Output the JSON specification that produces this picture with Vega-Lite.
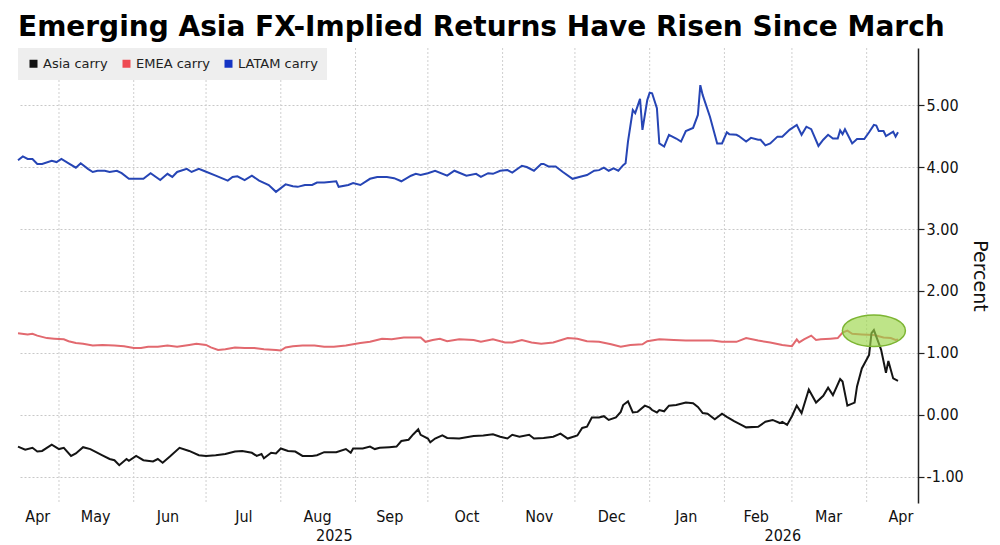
{
  "$schema": "https://vega.github.io/schema/vega-lite/v6.json",
  "width": 900,
  "height": 455,
  "autosize": {"type": "none"},
  "padding": {"left": 18, "top": 48, "right": 82, "bottom": 42},
  "background": "white",
  "config": {"view": {"stroke": null}, "font": "DejaVu Sans"},
  "title": {
    "text": "Emerging Asia FX-Implied Returns Have Risen Since March",
    "anchor": "start",
    "frame": "group",
    "font": "DejaVu Sans",
    "fontWeight": "bold",
    "fontSize": 28,
    "color": "#000000",
    "offset": 6
  },
  "datasets": {
    "months": [
      {"date": "2025-05-01"}, {"date": "2025-06-01"}, {"date": "2025-07-01"}, {"date": "2025-08-01"},
      {"date": "2025-09-01"}, {"date": "2025-10-01"}, {"date": "2025-11-01"}, {"date": "2025-12-01"},
      {"date": "2026-01-01"}, {"date": "2026-02-01"}, {"date": "2026-03-01"}, {"date": "2026-04-01"}
    ],
    "highlight": [{"date": "2026-04-04", "value": 1.36}],
    "carry": [
      {"date": "2025-04-14", "series": "LATAM carry", "value": 4.11},
      {"date": "2025-04-16", "series": "LATAM carry", "value": 4.17},
      {"date": "2025-04-18", "series": "LATAM carry", "value": 4.13},
      {"date": "2025-04-20", "series": "LATAM carry", "value": 4.13},
      {"date": "2025-04-22", "series": "LATAM carry", "value": 4.05},
      {"date": "2025-04-24", "series": "LATAM carry", "value": 4.05},
      {"date": "2025-04-28", "series": "LATAM carry", "value": 4.10},
      {"date": "2025-04-30", "series": "LATAM carry", "value": 4.08},
      {"date": "2025-05-02", "series": "LATAM carry", "value": 4.13},
      {"date": "2025-05-05", "series": "LATAM carry", "value": 4.06},
      {"date": "2025-05-08", "series": "LATAM carry", "value": 3.99},
      {"date": "2025-05-10", "series": "LATAM carry", "value": 4.06},
      {"date": "2025-05-13", "series": "LATAM carry", "value": 3.97},
      {"date": "2025-05-15", "series": "LATAM carry", "value": 3.92},
      {"date": "2025-05-17", "series": "LATAM carry", "value": 3.94},
      {"date": "2025-05-20", "series": "LATAM carry", "value": 3.94},
      {"date": "2025-05-22", "series": "LATAM carry", "value": 3.92},
      {"date": "2025-05-25", "series": "LATAM carry", "value": 3.94},
      {"date": "2025-05-27", "series": "LATAM carry", "value": 3.90},
      {"date": "2025-05-30", "series": "LATAM carry", "value": 3.81},
      {"date": "2025-06-05", "series": "LATAM carry", "value": 3.81},
      {"date": "2025-06-08", "series": "LATAM carry", "value": 3.90},
      {"date": "2025-06-12", "series": "LATAM carry", "value": 3.79},
      {"date": "2025-06-15", "series": "LATAM carry", "value": 3.89},
      {"date": "2025-06-17", "series": "LATAM carry", "value": 3.84},
      {"date": "2025-06-19", "series": "LATAM carry", "value": 3.92},
      {"date": "2025-06-23", "series": "LATAM carry", "value": 3.97},
      {"date": "2025-06-25", "series": "LATAM carry", "value": 3.92},
      {"date": "2025-06-28", "series": "LATAM carry", "value": 3.97},
      {"date": "2025-06-30", "series": "LATAM carry", "value": 3.94},
      {"date": "2025-07-05", "series": "LATAM carry", "value": 3.86},
      {"date": "2025-07-10", "series": "LATAM carry", "value": 3.78},
      {"date": "2025-07-12", "series": "LATAM carry", "value": 3.84},
      {"date": "2025-07-14", "series": "LATAM carry", "value": 3.85},
      {"date": "2025-07-17", "series": "LATAM carry", "value": 3.79},
      {"date": "2025-07-20", "series": "LATAM carry", "value": 3.86},
      {"date": "2025-07-23", "series": "LATAM carry", "value": 3.78},
      {"date": "2025-07-27", "series": "LATAM carry", "value": 3.71},
      {"date": "2025-07-30", "series": "LATAM carry", "value": 3.60},
      {"date": "2025-08-03", "series": "LATAM carry", "value": 3.72},
      {"date": "2025-08-06", "series": "LATAM carry", "value": 3.69},
      {"date": "2025-08-08", "series": "LATAM carry", "value": 3.68},
      {"date": "2025-08-11", "series": "LATAM carry", "value": 3.71},
      {"date": "2025-08-14", "series": "LATAM carry", "value": 3.71},
      {"date": "2025-08-16", "series": "LATAM carry", "value": 3.75},
      {"date": "2025-08-19", "series": "LATAM carry", "value": 3.75},
      {"date": "2025-08-24", "series": "LATAM carry", "value": 3.77},
      {"date": "2025-08-25", "series": "LATAM carry", "value": 3.68},
      {"date": "2025-08-29", "series": "LATAM carry", "value": 3.71},
      {"date": "2025-08-31", "series": "LATAM carry", "value": 3.74},
      {"date": "2025-09-03", "series": "LATAM carry", "value": 3.71},
      {"date": "2025-09-07", "series": "LATAM carry", "value": 3.81},
      {"date": "2025-09-10", "series": "LATAM carry", "value": 3.84},
      {"date": "2025-09-14", "series": "LATAM carry", "value": 3.84},
      {"date": "2025-09-17", "series": "LATAM carry", "value": 3.82},
      {"date": "2025-09-20", "series": "LATAM carry", "value": 3.77},
      {"date": "2025-09-24", "series": "LATAM carry", "value": 3.86},
      {"date": "2025-09-26", "series": "LATAM carry", "value": 3.89},
      {"date": "2025-09-28", "series": "LATAM carry", "value": 3.87},
      {"date": "2025-10-01", "series": "LATAM carry", "value": 3.90},
      {"date": "2025-10-04", "series": "LATAM carry", "value": 3.94},
      {"date": "2025-10-09", "series": "LATAM carry", "value": 3.86},
      {"date": "2025-10-12", "series": "LATAM carry", "value": 3.94},
      {"date": "2025-10-17", "series": "LATAM carry", "value": 3.86},
      {"date": "2025-10-21", "series": "LATAM carry", "value": 3.89},
      {"date": "2025-10-23", "series": "LATAM carry", "value": 3.84},
      {"date": "2025-10-26", "series": "LATAM carry", "value": 3.90},
      {"date": "2025-10-28", "series": "LATAM carry", "value": 3.89},
      {"date": "2025-10-31", "series": "LATAM carry", "value": 3.94},
      {"date": "2025-11-03", "series": "LATAM carry", "value": 3.95},
      {"date": "2025-11-05", "series": "LATAM carry", "value": 3.91},
      {"date": "2025-11-09", "series": "LATAM carry", "value": 4.02},
      {"date": "2025-11-11", "series": "LATAM carry", "value": 4.00},
      {"date": "2025-11-14", "series": "LATAM carry", "value": 3.94},
      {"date": "2025-11-17", "series": "LATAM carry", "value": 4.05},
      {"date": "2025-11-18", "series": "LATAM carry", "value": 4.05},
      {"date": "2025-11-20", "series": "LATAM carry", "value": 4.01},
      {"date": "2025-11-23", "series": "LATAM carry", "value": 4.01},
      {"date": "2025-11-26", "series": "LATAM carry", "value": 3.92},
      {"date": "2025-11-30", "series": "LATAM carry", "value": 3.81},
      {"date": "2025-12-04", "series": "LATAM carry", "value": 3.85},
      {"date": "2025-12-06", "series": "LATAM carry", "value": 3.87},
      {"date": "2025-12-09", "series": "LATAM carry", "value": 3.94},
      {"date": "2025-12-11", "series": "LATAM carry", "value": 3.95},
      {"date": "2025-12-13", "series": "LATAM carry", "value": 3.99},
      {"date": "2025-12-15", "series": "LATAM carry", "value": 3.94},
      {"date": "2025-12-17", "series": "LATAM carry", "value": 3.98},
      {"date": "2025-12-19", "series": "LATAM carry", "value": 3.94},
      {"date": "2025-12-21", "series": "LATAM carry", "value": 4.03},
      {"date": "2025-12-22", "series": "LATAM carry", "value": 4.06},
      {"date": "2025-12-23", "series": "LATAM carry", "value": 4.41},
      {"date": "2025-12-25", "series": "LATAM carry", "value": 4.92},
      {"date": "2025-12-26", "series": "LATAM carry", "value": 4.87},
      {"date": "2025-12-28", "series": "LATAM carry", "value": 5.10},
      {"date": "2025-12-29", "series": "LATAM carry", "value": 4.60},
      {"date": "2025-12-31", "series": "LATAM carry", "value": 5.08},
      {"date": "2026-01-01", "series": "LATAM carry", "value": 5.20},
      {"date": "2026-01-02", "series": "LATAM carry", "value": 5.19},
      {"date": "2026-01-04", "series": "LATAM carry", "value": 4.95},
      {"date": "2026-01-05", "series": "LATAM carry", "value": 4.38},
      {"date": "2026-01-07", "series": "LATAM carry", "value": 4.33},
      {"date": "2026-01-09", "series": "LATAM carry", "value": 4.52},
      {"date": "2026-01-12", "series": "LATAM carry", "value": 4.46},
      {"date": "2026-01-14", "series": "LATAM carry", "value": 4.41},
      {"date": "2026-01-16", "series": "LATAM carry", "value": 4.58},
      {"date": "2026-01-19", "series": "LATAM carry", "value": 4.63},
      {"date": "2026-01-21", "series": "LATAM carry", "value": 4.84},
      {"date": "2026-01-22", "series": "LATAM carry", "value": 5.32},
      {"date": "2026-01-23", "series": "LATAM carry", "value": 5.16},
      {"date": "2026-01-26", "series": "LATAM carry", "value": 4.81},
      {"date": "2026-01-29", "series": "LATAM carry", "value": 4.38},
      {"date": "2026-01-31", "series": "LATAM carry", "value": 4.38},
      {"date": "2026-02-02", "series": "LATAM carry", "value": 4.56},
      {"date": "2026-02-03", "series": "LATAM carry", "value": 4.53},
      {"date": "2026-02-06", "series": "LATAM carry", "value": 4.52},
      {"date": "2026-02-07", "series": "LATAM carry", "value": 4.50},
      {"date": "2026-02-10", "series": "LATAM carry", "value": 4.41},
      {"date": "2026-02-12", "series": "LATAM carry", "value": 4.47},
      {"date": "2026-02-15", "series": "LATAM carry", "value": 4.44},
      {"date": "2026-02-16", "series": "LATAM carry", "value": 4.44},
      {"date": "2026-02-18", "series": "LATAM carry", "value": 4.35},
      {"date": "2026-02-20", "series": "LATAM carry", "value": 4.38},
      {"date": "2026-02-23", "series": "LATAM carry", "value": 4.49},
      {"date": "2026-02-25", "series": "LATAM carry", "value": 4.49},
      {"date": "2026-02-28", "series": "LATAM carry", "value": 4.60},
      {"date": "2026-03-03", "series": "LATAM carry", "value": 4.68},
      {"date": "2026-03-05", "series": "LATAM carry", "value": 4.52},
      {"date": "2026-03-07", "series": "LATAM carry", "value": 4.65},
      {"date": "2026-03-09", "series": "LATAM carry", "value": 4.61},
      {"date": "2026-03-12", "series": "LATAM carry", "value": 4.34},
      {"date": "2026-03-14", "series": "LATAM carry", "value": 4.44},
      {"date": "2026-03-16", "series": "LATAM carry", "value": 4.52},
      {"date": "2026-03-18", "series": "LATAM carry", "value": 4.46},
      {"date": "2026-03-20", "series": "LATAM carry", "value": 4.46},
      {"date": "2026-03-21", "series": "LATAM carry", "value": 4.59},
      {"date": "2026-03-22", "series": "LATAM carry", "value": 4.53},
      {"date": "2026-03-23", "series": "LATAM carry", "value": 4.61},
      {"date": "2026-03-26", "series": "LATAM carry", "value": 4.38},
      {"date": "2026-03-28", "series": "LATAM carry", "value": 4.45},
      {"date": "2026-03-31", "series": "LATAM carry", "value": 4.45},
      {"date": "2026-04-02", "series": "LATAM carry", "value": 4.56},
      {"date": "2026-04-04", "series": "LATAM carry", "value": 4.68},
      {"date": "2026-04-05", "series": "LATAM carry", "value": 4.67},
      {"date": "2026-04-06", "series": "LATAM carry", "value": 4.58},
      {"date": "2026-04-08", "series": "LATAM carry", "value": 4.58},
      {"date": "2026-04-09", "series": "LATAM carry", "value": 4.50},
      {"date": "2026-04-12", "series": "LATAM carry", "value": 4.57},
      {"date": "2026-04-13", "series": "LATAM carry", "value": 4.49},
      {"date": "2026-04-14", "series": "LATAM carry", "value": 4.56},

      {"date": "2025-04-14", "series": "EMEA carry", "value": 1.32},
      {"date": "2025-04-18", "series": "EMEA carry", "value": 1.30},
      {"date": "2025-04-20", "series": "EMEA carry", "value": 1.31},
      {"date": "2025-04-22", "series": "EMEA carry", "value": 1.28},
      {"date": "2025-04-26", "series": "EMEA carry", "value": 1.24},
      {"date": "2025-04-29", "series": "EMEA carry", "value": 1.23},
      {"date": "2025-05-03", "series": "EMEA carry", "value": 1.22},
      {"date": "2025-05-05", "series": "EMEA carry", "value": 1.19},
      {"date": "2025-05-08", "series": "EMEA carry", "value": 1.16},
      {"date": "2025-05-11", "series": "EMEA carry", "value": 1.15},
      {"date": "2025-05-15", "series": "EMEA carry", "value": 1.12},
      {"date": "2025-05-19", "series": "EMEA carry", "value": 1.13},
      {"date": "2025-05-24", "series": "EMEA carry", "value": 1.12},
      {"date": "2025-05-28", "series": "EMEA carry", "value": 1.11},
      {"date": "2025-06-01", "series": "EMEA carry", "value": 1.08},
      {"date": "2025-06-04", "series": "EMEA carry", "value": 1.08},
      {"date": "2025-06-07", "series": "EMEA carry", "value": 1.10},
      {"date": "2025-06-11", "series": "EMEA carry", "value": 1.10},
      {"date": "2025-06-15", "series": "EMEA carry", "value": 1.12},
      {"date": "2025-06-19", "series": "EMEA carry", "value": 1.10},
      {"date": "2025-06-24", "series": "EMEA carry", "value": 1.13},
      {"date": "2025-06-27", "series": "EMEA carry", "value": 1.15},
      {"date": "2025-07-01", "series": "EMEA carry", "value": 1.13},
      {"date": "2025-07-03", "series": "EMEA carry", "value": 1.09},
      {"date": "2025-07-06", "series": "EMEA carry", "value": 1.05},
      {"date": "2025-07-09", "series": "EMEA carry", "value": 1.06},
      {"date": "2025-07-13", "series": "EMEA carry", "value": 1.09},
      {"date": "2025-07-17", "series": "EMEA carry", "value": 1.08},
      {"date": "2025-07-21", "series": "EMEA carry", "value": 1.08},
      {"date": "2025-07-25", "series": "EMEA carry", "value": 1.06},
      {"date": "2025-07-30", "series": "EMEA carry", "value": 1.05},
      {"date": "2025-08-01", "series": "EMEA carry", "value": 1.04},
      {"date": "2025-08-03", "series": "EMEA carry", "value": 1.09},
      {"date": "2025-08-06", "series": "EMEA carry", "value": 1.11},
      {"date": "2025-08-10", "series": "EMEA carry", "value": 1.12},
      {"date": "2025-08-15", "series": "EMEA carry", "value": 1.12},
      {"date": "2025-08-19", "series": "EMEA carry", "value": 1.10},
      {"date": "2025-08-23", "series": "EMEA carry", "value": 1.10},
      {"date": "2025-08-28", "series": "EMEA carry", "value": 1.12},
      {"date": "2025-09-03", "series": "EMEA carry", "value": 1.16},
      {"date": "2025-09-07", "series": "EMEA carry", "value": 1.18},
      {"date": "2025-09-12", "series": "EMEA carry", "value": 1.23},
      {"date": "2025-09-16", "series": "EMEA carry", "value": 1.22},
      {"date": "2025-09-21", "series": "EMEA carry", "value": 1.25},
      {"date": "2025-09-24", "series": "EMEA carry", "value": 1.25},
      {"date": "2025-09-28", "series": "EMEA carry", "value": 1.25},
      {"date": "2025-09-30", "series": "EMEA carry", "value": 1.18},
      {"date": "2025-10-03", "series": "EMEA carry", "value": 1.21},
      {"date": "2025-10-06", "series": "EMEA carry", "value": 1.23},
      {"date": "2025-10-09", "series": "EMEA carry", "value": 1.19},
      {"date": "2025-10-14", "series": "EMEA carry", "value": 1.22},
      {"date": "2025-10-20", "series": "EMEA carry", "value": 1.21},
      {"date": "2025-10-23", "series": "EMEA carry", "value": 1.18},
      {"date": "2025-10-28", "series": "EMEA carry", "value": 1.22},
      {"date": "2025-11-02", "series": "EMEA carry", "value": 1.17},
      {"date": "2025-11-05", "series": "EMEA carry", "value": 1.17},
      {"date": "2025-11-09", "series": "EMEA carry", "value": 1.21},
      {"date": "2025-11-13", "series": "EMEA carry", "value": 1.17},
      {"date": "2025-11-17", "series": "EMEA carry", "value": 1.15},
      {"date": "2025-11-22", "series": "EMEA carry", "value": 1.17},
      {"date": "2025-11-28", "series": "EMEA carry", "value": 1.24},
      {"date": "2025-12-02", "series": "EMEA carry", "value": 1.23},
      {"date": "2025-12-06", "series": "EMEA carry", "value": 1.19},
      {"date": "2025-12-11", "series": "EMEA carry", "value": 1.18},
      {"date": "2025-12-16", "series": "EMEA carry", "value": 1.14},
      {"date": "2025-12-20", "series": "EMEA carry", "value": 1.10},
      {"date": "2025-12-24", "series": "EMEA carry", "value": 1.13},
      {"date": "2025-12-29", "series": "EMEA carry", "value": 1.14},
      {"date": "2025-12-31", "series": "EMEA carry", "value": 1.19},
      {"date": "2026-01-05", "series": "EMEA carry", "value": 1.22},
      {"date": "2026-01-11", "series": "EMEA carry", "value": 1.21},
      {"date": "2026-01-16", "series": "EMEA carry", "value": 1.20},
      {"date": "2026-01-22", "series": "EMEA carry", "value": 1.20},
      {"date": "2026-01-27", "series": "EMEA carry", "value": 1.20},
      {"date": "2026-01-31", "series": "EMEA carry", "value": 1.18},
      {"date": "2026-02-06", "series": "EMEA carry", "value": 1.18},
      {"date": "2026-02-10", "series": "EMEA carry", "value": 1.24},
      {"date": "2026-02-15", "series": "EMEA carry", "value": 1.20},
      {"date": "2026-02-20", "series": "EMEA carry", "value": 1.17},
      {"date": "2026-02-25", "series": "EMEA carry", "value": 1.13},
      {"date": "2026-03-01", "series": "EMEA carry", "value": 1.11},
      {"date": "2026-03-03", "series": "EMEA carry", "value": 1.22},
      {"date": "2026-03-04", "series": "EMEA carry", "value": 1.17},
      {"date": "2026-03-06", "series": "EMEA carry", "value": 1.22},
      {"date": "2026-03-09", "series": "EMEA carry", "value": 1.28},
      {"date": "2026-03-11", "series": "EMEA carry", "value": 1.21},
      {"date": "2026-03-13", "series": "EMEA carry", "value": 1.22},
      {"date": "2026-03-17", "series": "EMEA carry", "value": 1.23},
      {"date": "2026-03-20", "series": "EMEA carry", "value": 1.24},
      {"date": "2026-03-22", "series": "EMEA carry", "value": 1.33},
      {"date": "2026-03-24", "series": "EMEA carry", "value": 1.36},
      {"date": "2026-03-26", "series": "EMEA carry", "value": 1.31},
      {"date": "2026-03-30", "series": "EMEA carry", "value": 1.30},
      {"date": "2026-04-04", "series": "EMEA carry", "value": 1.29},
      {"date": "2026-04-08", "series": "EMEA carry", "value": 1.25},
      {"date": "2026-04-11", "series": "EMEA carry", "value": 1.24},
      {"date": "2026-04-13", "series": "EMEA carry", "value": 1.21},
      {"date": "2026-04-14", "series": "EMEA carry", "value": 1.22},

      {"date": "2025-04-14", "series": "Asia carry", "value": -0.51},
      {"date": "2025-04-17", "series": "Asia carry", "value": -0.56},
      {"date": "2025-04-20", "series": "Asia carry", "value": -0.53},
      {"date": "2025-04-22", "series": "Asia carry", "value": -0.59},
      {"date": "2025-04-24", "series": "Asia carry", "value": -0.58},
      {"date": "2025-04-28", "series": "Asia carry", "value": -0.48},
      {"date": "2025-05-01", "series": "Asia carry", "value": -0.55},
      {"date": "2025-05-03", "series": "Asia carry", "value": -0.53},
      {"date": "2025-05-06", "series": "Asia carry", "value": -0.66},
      {"date": "2025-05-08", "series": "Asia carry", "value": -0.62},
      {"date": "2025-05-11", "series": "Asia carry", "value": -0.52},
      {"date": "2025-05-14", "series": "Asia carry", "value": -0.55},
      {"date": "2025-05-17", "series": "Asia carry", "value": -0.61},
      {"date": "2025-05-19", "series": "Asia carry", "value": -0.65},
      {"date": "2025-05-22", "series": "Asia carry", "value": -0.71},
      {"date": "2025-05-24", "series": "Asia carry", "value": -0.73},
      {"date": "2025-05-26", "series": "Asia carry", "value": -0.81},
      {"date": "2025-05-29", "series": "Asia carry", "value": -0.71},
      {"date": "2025-05-30", "series": "Asia carry", "value": -0.74},
      {"date": "2025-06-02", "series": "Asia carry", "value": -0.66},
      {"date": "2025-06-05", "series": "Asia carry", "value": -0.73},
      {"date": "2025-06-09", "series": "Asia carry", "value": -0.75},
      {"date": "2025-06-11", "series": "Asia carry", "value": -0.71},
      {"date": "2025-06-13", "series": "Asia carry", "value": -0.77},
      {"date": "2025-06-16", "series": "Asia carry", "value": -0.67},
      {"date": "2025-06-20", "series": "Asia carry", "value": -0.53},
      {"date": "2025-06-24", "series": "Asia carry", "value": -0.58},
      {"date": "2025-06-28", "series": "Asia carry", "value": -0.65},
      {"date": "2025-07-01", "series": "Asia carry", "value": -0.66},
      {"date": "2025-07-05", "series": "Asia carry", "value": -0.65},
      {"date": "2025-07-09", "series": "Asia carry", "value": -0.63},
      {"date": "2025-07-13", "series": "Asia carry", "value": -0.59},
      {"date": "2025-07-16", "series": "Asia carry", "value": -0.58},
      {"date": "2025-07-20", "series": "Asia carry", "value": -0.61},
      {"date": "2025-07-22", "series": "Asia carry", "value": -0.66},
      {"date": "2025-07-24", "series": "Asia carry", "value": -0.63},
      {"date": "2025-07-25", "series": "Asia carry", "value": -0.70},
      {"date": "2025-07-28", "series": "Asia carry", "value": -0.61},
      {"date": "2025-07-30", "series": "Asia carry", "value": -0.62},
      {"date": "2025-08-01", "series": "Asia carry", "value": -0.54},
      {"date": "2025-08-04", "series": "Asia carry", "value": -0.58},
      {"date": "2025-08-07", "series": "Asia carry", "value": -0.59},
      {"date": "2025-08-10", "series": "Asia carry", "value": -0.66},
      {"date": "2025-08-14", "series": "Asia carry", "value": -0.66},
      {"date": "2025-08-16", "series": "Asia carry", "value": -0.65},
      {"date": "2025-08-19", "series": "Asia carry", "value": -0.60},
      {"date": "2025-08-24", "series": "Asia carry", "value": -0.60},
      {"date": "2025-08-28", "series": "Asia carry", "value": -0.55},
      {"date": "2025-08-30", "series": "Asia carry", "value": -0.61},
      {"date": "2025-08-31", "series": "Asia carry", "value": -0.54},
      {"date": "2025-09-04", "series": "Asia carry", "value": -0.54},
      {"date": "2025-09-07", "series": "Asia carry", "value": -0.51},
      {"date": "2025-09-09", "series": "Asia carry", "value": -0.55},
      {"date": "2025-09-11", "series": "Asia carry", "value": -0.53},
      {"date": "2025-09-15", "series": "Asia carry", "value": -0.52},
      {"date": "2025-09-18", "series": "Asia carry", "value": -0.51},
      {"date": "2025-09-20", "series": "Asia carry", "value": -0.42},
      {"date": "2025-09-23", "series": "Asia carry", "value": -0.40},
      {"date": "2025-09-25", "series": "Asia carry", "value": -0.31},
      {"date": "2025-09-27", "series": "Asia carry", "value": -0.23},
      {"date": "2025-09-28", "series": "Asia carry", "value": -0.32},
      {"date": "2025-10-01", "series": "Asia carry", "value": -0.38},
      {"date": "2025-10-02", "series": "Asia carry", "value": -0.44},
      {"date": "2025-10-04", "series": "Asia carry", "value": -0.38},
      {"date": "2025-10-07", "series": "Asia carry", "value": -0.33},
      {"date": "2025-10-09", "series": "Asia carry", "value": -0.37},
      {"date": "2025-10-14", "series": "Asia carry", "value": -0.38},
      {"date": "2025-10-20", "series": "Asia carry", "value": -0.34},
      {"date": "2025-10-24", "series": "Asia carry", "value": -0.33},
      {"date": "2025-10-28", "series": "Asia carry", "value": -0.31},
      {"date": "2025-10-31", "series": "Asia carry", "value": -0.35},
      {"date": "2025-11-03", "series": "Asia carry", "value": -0.38},
      {"date": "2025-11-05", "series": "Asia carry", "value": -0.32},
      {"date": "2025-11-08", "series": "Asia carry", "value": -0.35},
      {"date": "2025-11-12", "series": "Asia carry", "value": -0.32},
      {"date": "2025-11-14", "series": "Asia carry", "value": -0.38},
      {"date": "2025-11-18", "series": "Asia carry", "value": -0.37},
      {"date": "2025-11-22", "series": "Asia carry", "value": -0.35},
      {"date": "2025-11-25", "series": "Asia carry", "value": -0.30},
      {"date": "2025-11-28", "series": "Asia carry", "value": -0.38},
      {"date": "2025-12-02", "series": "Asia carry", "value": -0.33},
      {"date": "2025-12-04", "series": "Asia carry", "value": -0.21},
      {"date": "2025-12-06", "series": "Asia carry", "value": -0.19},
      {"date": "2025-12-08", "series": "Asia carry", "value": -0.04},
      {"date": "2025-12-11", "series": "Asia carry", "value": -0.04},
      {"date": "2025-12-13", "series": "Asia carry", "value": -0.02},
      {"date": "2025-12-15", "series": "Asia carry", "value": -0.08},
      {"date": "2025-12-18", "series": "Asia carry", "value": -0.04},
      {"date": "2025-12-20", "series": "Asia carry", "value": 0.05},
      {"date": "2025-12-21", "series": "Asia carry", "value": 0.16},
      {"date": "2025-12-23", "series": "Asia carry", "value": 0.22},
      {"date": "2025-12-25", "series": "Asia carry", "value": 0.04},
      {"date": "2025-12-27", "series": "Asia carry", "value": 0.05},
      {"date": "2025-12-30", "series": "Asia carry", "value": 0.15},
      {"date": "2026-01-01", "series": "Asia carry", "value": 0.12},
      {"date": "2026-01-02", "series": "Asia carry", "value": 0.08},
      {"date": "2026-01-04", "series": "Asia carry", "value": 0.04},
      {"date": "2026-01-05", "series": "Asia carry", "value": 0.08},
      {"date": "2026-01-07", "series": "Asia carry", "value": 0.06},
      {"date": "2026-01-09", "series": "Asia carry", "value": 0.15},
      {"date": "2026-01-12", "series": "Asia carry", "value": 0.16},
      {"date": "2026-01-16", "series": "Asia carry", "value": 0.20},
      {"date": "2026-01-19", "series": "Asia carry", "value": 0.19},
      {"date": "2026-01-21", "series": "Asia carry", "value": 0.13},
      {"date": "2026-01-23", "series": "Asia carry", "value": 0.03},
      {"date": "2026-01-25", "series": "Asia carry", "value": 0.02},
      {"date": "2026-01-28", "series": "Asia carry", "value": -0.07},
      {"date": "2026-01-31", "series": "Asia carry", "value": 0.02},
      {"date": "2026-02-02", "series": "Asia carry", "value": -0.03},
      {"date": "2026-02-05", "series": "Asia carry", "value": -0.10},
      {"date": "2026-02-08", "series": "Asia carry", "value": -0.16},
      {"date": "2026-02-10", "series": "Asia carry", "value": -0.20},
      {"date": "2026-02-15", "series": "Asia carry", "value": -0.19},
      {"date": "2026-02-18", "series": "Asia carry", "value": -0.11},
      {"date": "2026-02-21", "series": "Asia carry", "value": -0.08},
      {"date": "2026-02-24", "series": "Asia carry", "value": -0.13},
      {"date": "2026-02-25", "series": "Asia carry", "value": -0.11},
      {"date": "2026-02-27", "series": "Asia carry", "value": -0.16},
      {"date": "2026-03-01", "series": "Asia carry", "value": -0.02},
      {"date": "2026-03-03", "series": "Asia carry", "value": 0.15},
      {"date": "2026-03-05", "series": "Asia carry", "value": 0.03},
      {"date": "2026-03-08", "series": "Asia carry", "value": 0.41},
      {"date": "2026-03-11", "series": "Asia carry", "value": 0.20},
      {"date": "2026-03-14", "series": "Asia carry", "value": 0.31},
      {"date": "2026-03-16", "series": "Asia carry", "value": 0.44},
      {"date": "2026-03-18", "series": "Asia carry", "value": 0.32},
      {"date": "2026-03-21", "series": "Asia carry", "value": 0.58},
      {"date": "2026-03-22", "series": "Asia carry", "value": 0.54},
      {"date": "2026-03-24", "series": "Asia carry", "value": 0.15},
      {"date": "2026-03-27", "series": "Asia carry", "value": 0.20},
      {"date": "2026-03-28", "series": "Asia carry", "value": 0.46},
      {"date": "2026-03-30", "series": "Asia carry", "value": 0.75},
      {"date": "2026-04-02", "series": "Asia carry", "value": 0.97},
      {"date": "2026-04-03", "series": "Asia carry", "value": 1.32},
      {"date": "2026-04-04", "series": "Asia carry", "value": 1.37},
      {"date": "2026-04-06", "series": "Asia carry", "value": 1.16},
      {"date": "2026-04-07", "series": "Asia carry", "value": 1.05},
      {"date": "2026-04-09", "series": "Asia carry", "value": 0.68},
      {"date": "2026-04-10", "series": "Asia carry", "value": 0.87},
      {"date": "2026-04-12", "series": "Asia carry", "value": 0.59},
      {"date": "2026-04-14", "series": "Asia carry", "value": 0.55}
    ]
  },
  "resolve": {"axis": {"x": "independent"}},
  "layer": [
    {
      "data": {"name": "months"},
      "mark": {"type": "rule", "color": "#cfcfcf", "strokeWidth": 1, "strokeDash": [2, 2]},
      "encoding": {
        "x": {
          "field": "date",
          "type": "temporal",
          "scale": {"type": "utc", "domain": [{"year": 2025, "month": 4, "date": 14, "utc": true}, {"year": 2026, "month": 4, "date": 22, "hours": 7, "utc": true}]},
          "axis": {
            "orient": "bottom",
            "values": [{"year": 2025, "month": 8, "date": 23, "utc": true}, {"year": 2026, "month": 2, "date": 25, "utc": true}],
            "labelExpr": "utcFormat(datum.value, '%Y')",
            "title": null,
            "domain": false,
            "ticks": false,
            "grid": false,
            "labelPadding": 24,
            "labelFont": "DejaVu Sans Condensed",
            "labelFontSize": 16,
            "labelColor": "#111111",
            "labelFlush": false,
            "labelOverlap": false
          }
        }
      }
    },
    {
      "data": {"name": "carry"},
      "mark": {"type": "line", "strokeWidth": 2},
      "encoding": {
        "x": {
          "field": "date",
          "type": "temporal",
          "scale": {"type": "utc", "domain": [{"year": 2025, "month": 4, "date": 14, "utc": true}, {"year": 2026, "month": 4, "date": 22, "hours": 7, "utc": true}]},
          "axis": {
            "orient": "bottom",
            "values": [
              {"year": 2025, "month": 4, "date": 22, "utc": true},
              {"year": 2025, "month": 5, "date": 16, "utc": true},
              {"year": 2025, "month": 6, "date": 15, "utc": true},
              {"year": 2025, "month": 7, "date": 16, "hours": 12, "utc": true},
              {"year": 2025, "month": 8, "date": 16, "utc": true},
              {"year": 2025, "month": 9, "date": 15, "utc": true},
              {"year": 2025, "month": 10, "date": 17, "utc": true},
              {"year": 2025, "month": 11, "date": 16, "utc": true},
              {"year": 2025, "month": 12, "date": 16, "utc": true},
              {"year": 2026, "month": 1, "date": 16, "utc": true},
              {"year": 2026, "month": 2, "date": 14, "utc": true},
              {"year": 2026, "month": 3, "date": 16, "utc": true},
              {"year": 2026, "month": 4, "date": 15, "utc": true}
            ],
            "labelExpr": "utcFormat(datum.value, '%b')",
            "title": null,
            "domain": false,
            "ticks": false,
            "grid": false,
            "labelPadding": 5,
            "labelFont": "DejaVu Sans Condensed",
            "labelFontSize": 16,
            "labelColor": "#111111",
            "labelFlush": false,
            "labelOverlap": false
          }
        },
        "y": {
          "field": "value",
          "type": "quantitative",
          "scale": {"domain": [-1.42, 5.92], "nice": false, "zero": false},
          "axis": {
            "orient": "right",
            "title": "Percent",
            "titleFont": "DejaVu Sans",
            "titleFontSize": 19,
            "titleFontWeight": "normal",
            "titleColor": "#111111",
            "titlePadding": 6,
            "values": [-1, -0.5, 0, 0.5, 1, 1.5, 2, 2.5, 3, 3.5, 4, 4.5, 5, 5.5],
            "labelExpr": "datum.value % 1 === 0 ? replace(format(datum.value, '.2f'), '\u2212', '-') : ''",
            "labelFont": "DejaVu Sans Condensed",
            "labelFontSize": 16,
            "labelColor": "#111111",
            "labelPadding": 2,
            "domain": true,
            "domainColor": "#222222",
            "domainWidth": 1.5,
            "tickColor": "#222222",
            "tickWidth": 1.2,
            "tickSize": {"condition": {"test": "datum.value % 1 !== 0", "value": 3}, "value": 6},
            "grid": true,
            "gridColor": "#c8c8c8",
            "gridDash": [2, 2],
            "gridOpacity": {"condition": {"test": "datum.value % 1 !== 0", "value": 0}, "value": 1},
            "labelOverlap": false
          }
        },
        "color": {
          "field": "series",
          "type": "nominal",
          "scale": {"domain": ["Asia carry", "EMEA carry", "LATAM carry"], "range": ["#141414", "#e2696f", "#2645b5"]},
          "legend": {
            "title": null,
            "orient": "top-left",
            "offset": 0,
            "direction": "horizontal",
            "fillColor": "#eeeeee",
            "padding": 9,
            "symbolType": "square",
            "symbolSize": 64,
            "symbolStrokeWidth": 0,
            "labelFont": "DejaVu Sans",
            "labelFontSize": 13,
            "labelColor": "#222222",
            "labelOffset": 3,
            "columnPadding": 12,
            "encode": {
              "symbols": {
                "update": {
                  "fill": {"signal": "datum.value === 'EMEA carry' ? '#ee4a52' : datum.value === 'LATAM carry' ? '#1434c4' : '#111111'"},
                  "strokeWidth": {"value": 0},
                  "opacity": {"value": 1}
                }
              }
            }
          }
        }
      }
    },
    {
      "data": {"name": "highlight"},
      "mark": {
        "type": "point",
        "shape": "M -1 0 A 1 0.5 0 1 0 1 0 A 1 0.5 0 1 0 -1 0 Z",
        "size": 3969,
        "filled": true,
        "fill": "#9bd648",
        "fillOpacity": 0.65,
        "stroke": "#7db533",
        "strokeWidth": 1.5,
        "strokeOpacity": 1
      },
      "encoding": {
        "x": {"field": "date", "type": "temporal", "axis": null},
        "y": {
          "field": "value",
          "type": "quantitative",
          "scale": {"domain": [-1.42, 5.92], "nice": false, "zero": false}
        }
      }
    }
  ]
}
